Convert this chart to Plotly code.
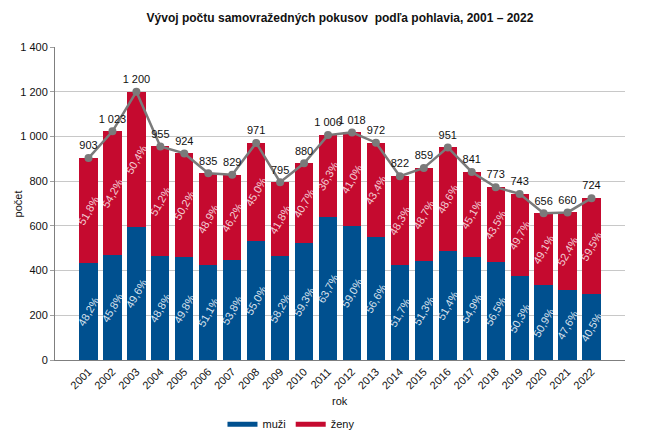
import plotly.graph_objects as go

roky = [str(r) for r in range(2001, 2023)]
spolu = [903, 1023, 1200, 955, 924, 835, 829, 971, 795, 880, 1006, 1018, 972, 822, 859, 951, 841, 773, 743, 656, 660, 724]
muzi = [435, 469, 595, 466, 460, 427, 446, 534, 463, 522, 641, 601, 550, 425, 441, 489, 462, 437, 374, 334, 314, 293]
zeny = [468, 554, 605, 489, 464, 408, 383, 437, 332, 358, 365, 417, 422, 397, 418, 462, 379, 336, 369, 322, 346, 431]
muzi_pct = [48.2, 45.8, 49.6, 48.8, 49.8, 51.1, 53.8, 55.0, 58.2, 59.3, 63.7, 59.0, 56.6, 51.7, 51.3, 51.4, 54.9, 56.5, 50.3, 50.9, 47.6, 40.5]
zeny_pct = [51.8, 54.2, 50.4, 51.2, 50.2, 48.9, 46.2, 45.0, 41.8, 40.7, 36.3, 41.0, 43.4, 48.3, 48.7, 48.6, 45.1, 43.5, 49.7, 49.1, 52.4, 59.5]
y_ticks = [0, 200, 400, 600, 800, 1000, 1200, 1400]
y_ticktext = ["0", "200", "400", "600", "800", "1 000", "1 200", "1 400"]

def fmt_pct(v):
    return f"{v:.1f}".replace(".", ",") + "%"

def fmt_int(v):
    return f"{v:,}".replace(",", " ")

FONT = "Liberation Sans, Arial, sans-serif"
C_M = "#00508f"
C_Z = "#c50a2f"

fig = go.Figure()
fig.add_trace(go.Bar(
    x=roky, y=muzi, name="muži", showlegend=False, marker=dict(color=C_M, line=dict(width=0)),
    text=[fmt_pct(v) for v in muzi_pct], textposition="inside", insidetextanchor="middle",
    textangle=-60, constraintext="none",
    textfont=dict(color="rgba(255,255,255,0.85)", size=11, family=FONT),
    hoverinfo="skip",
))
fig.add_trace(go.Bar(
    x=roky, y=zeny, name="ženy", showlegend=False, marker=dict(color=C_Z, line=dict(width=0)),
    text=[fmt_pct(v) for v in zeny_pct], textposition="inside", insidetextanchor="middle",
    textangle=-60, constraintext="none",
    textfont=dict(color="rgba(255,255,255,0.8)", size=11, family=FONT),
    hoverinfo="skip",
))
fig.add_trace(go.Scatter(
    x=roky, y=spolu, mode="lines+markers+text", showlegend=False,
    line=dict(color="#7a7a7a", width=2.5), marker=dict(color="#7a7a7a", size=8),
    text=[fmt_int(v) for v in spolu], textposition="top center",
    textfont=dict(color="#111111", size=11, family=FONT), cliponaxis=False,
))
# legend entries (line-style swatches as in the original)
fig.add_trace(go.Scatter(x=[None], y=[None], mode="lines", name="muži",
                         line=dict(color=C_M, width=5)))
fig.add_trace(go.Scatter(x=[None], y=[None], mode="lines", name="ženy",
                         line=dict(color=C_Z, width=5)))

# the page body adds an 8px margin, so the figure is 8px smaller than the window
fig.update_layout(
    width=642, height=427, barmode="stack", bargap=0.24,
    paper_bgcolor="white", plot_bgcolor="white",
    font=dict(family=FONT, size=11, color="#111111"),
    margin=dict(l=47, r=25, t=39, b=75, autoexpand=False),
    title=dict(text="<b>Vývoj počtu samovražedných pokusov  podľa pohlavia, 2001 – 2022</b>",
               x=0.5, xanchor="center", xref="paper", y=0.977, yanchor="middle",
               font=dict(size=12, family=FONT, color="#111111")),
    xaxis=dict(tickangle=-45, automargin=False,
               showline=True, linecolor="#7f7f7f", ticks="", tickfont=dict(size=11)),
    yaxis=dict(range=[0, 1400], automargin=False,
               tickvals=y_ticks, ticktext=y_ticktext,
               showgrid=True, gridcolor="#c8c8c8", gridwidth=1,
               showline=True, linecolor="#7f7f7f", ticks="outside", ticklen=4, tickcolor="#a0a0a0",
               zeroline=False, tickfont=dict(size=11)),
    legend=dict(orientation="h", x=0.414, xanchor="center", y=-0.205, yanchor="middle",
                font=dict(size=11), traceorder="normal", itemwidth=30),
    annotations=[
        dict(text="rok", x=0.5, y=-0.131, xref="paper", yref="paper", showarrow=False,
             xanchor="center", yanchor="middle", font=dict(size=11)),
        dict(text="počet", x=-0.065, y=0.5, xref="paper", yref="paper", showarrow=False,
             textangle=-90, xanchor="center", yanchor="middle", font=dict(size=11)),
    ],
)

fig.write_html("out.html")
